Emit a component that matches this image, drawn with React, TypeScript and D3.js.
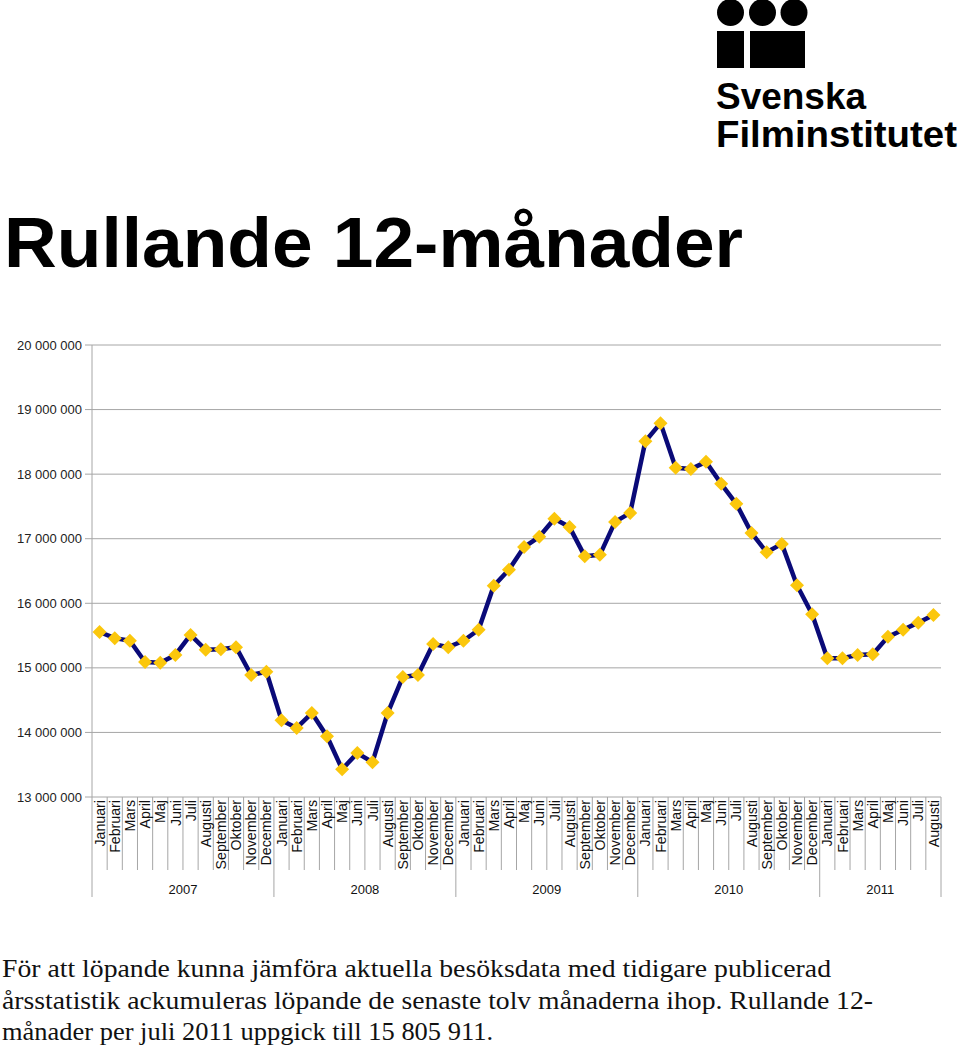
import React from "react";
import * as d3 from "d3";

const monthNames = ["Januari","Februari","Mars","April","Maj","Juni","Juli","Augusti","September","Oktober","November","December"];
const years = ["2007","2008","2009","2010","2011"];
const monthsPerYear = [12, 12, 12, 12, 8];
const values = [
  15.555, 15.46, 15.42, 15.09, 15.08, 15.2, 15.51, 15.28, 15.29, 15.32, 14.89, 14.94,
  14.19, 14.07, 14.3, 13.94, 13.43, 13.68, 13.54, 14.3, 14.86, 14.89, 15.37, 15.32,
  15.42, 15.59, 16.27, 16.52, 16.87, 17.03, 17.31, 17.18, 16.73, 16.75, 17.26, 17.4,
  18.51, 18.79, 18.1, 18.08, 18.19, 17.85, 17.54, 17.09, 16.79, 16.92, 16.28, 15.83,
  15.15, 15.15, 15.2, 15.21, 15.48, 15.59, 15.7, 15.82
].map(v => v * 1e6);
const yTicks = [13e6, 14e6, 15e6, 16e6, 17e6, 18e6, 19e6, 20e6];
const bodyLines = [
  "För att löpande kunna jämföra aktuella besöksdata med tidigare publicerad",
  "årsstatistik ackumuleras löpande de senaste tolv månaderna ihop. Rullande 12-",
  "månader per juli 2011 uppgick till 15 805 911."
];
const bodyWidths = [829, 871, 491];

const labels: string[] = [];
monthsPerYear.forEach(n => { for (let i = 0; i < n; i++) labels.push(monthNames[i]); });

export default function App() {
  const left = 92, right = 941, top = 345, bottom = 797;
  const x = d3.scaleBand<number>().domain(d3.range(values.length)).range([left, right]);
  const y = d3.scaleLinear().domain([13e6, 20e6]).range([bottom, top]);
  const fmt = (v: number) => d3.format(",")(v).replace(/,/g, " ");
  const line = d3.line<number>().x((_, i) => x(i)! + x.bandwidth() / 2).y(d => y(d));
  const yearStarts: number[] = [];
  let acc = 0;
  monthsPerYear.forEach(n => { yearStarts.push(acc); acc += n; });
  const sans = "'Liberation Sans', Arial, Helvetica, sans-serif";
  const r = 7;
  return (
    <svg width={960} height={1049} style={{ position: "absolute", left: 0, top: 0, background: "#fff" }}>
      {/* Logo */}
      <g fill="#000">
        <circle cx={730.5} cy={12.5} r={13.5} />
        <circle cx={762.5} cy={12.5} r={13.5} />
        <circle cx={794} cy={12.5} r={13.5} />
        <rect x={717} y={31} width={27} height={37} />
        <rect x={750} y={31} width={55} height={37} />
        <text x={716} y={109} fontFamily={sans} fontWeight="bold" fontSize={37} textLength={150} lengthAdjust="spacingAndGlyphs">Svenska</text>
        <text x={716} y={147} fontFamily={sans} fontWeight="bold" fontSize={37} textLength={241} lengthAdjust="spacingAndGlyphs">Filminstitutet</text>
      </g>
      {/* Title */}
      <text x={4} y={267} fontFamily={sans} fontWeight="bold" fontSize={71} textLength={739} lengthAdjust="spacingAndGlyphs" fill="#000">Rullande 12-månader</text>
      {/* Grid & y axis */}
      {yTicks.map(t => (
        <g key={t}>
          <line x1={85} x2={right} y1={y(t)} y2={y(t)} stroke="#a6a6a6" strokeWidth={1} />
          <text x={82} y={y(t)} dy="0.35em" textAnchor="end" fontFamily={sans} fontSize={13} fill="#222">{fmt(t)}</text>
        </g>
      ))}
      <line x1={left} x2={left} y1={top} y2={897} stroke="#a6a6a6" />
      {/* category ticks */}
      {d3.range(1, values.length + 1).map(i => {
        const xx = i === values.length ? right : x(i)!;
        const isYear = i === values.length || yearStarts.includes(i);
        return <line key={i} x1={xx} x2={xx} y1={bottom} y2={isYear ? 897 : 870} stroke="#a6a6a6" />;
      })}
      {labels.map((m, i) => {
        const cx = x(i)! + x.bandwidth() / 2;
        return (
          <text key={i} transform={`translate(${cx},800) rotate(-90)`} dy="0.36em" textAnchor="end" fontFamily={sans} fontSize={14.2} fill="#111">{m}</text>
        );
      })}
      {years.map((yr, k) => {
        const s = x(yearStarts[k])!;
        const e = k === years.length - 1 ? right : x(yearStarts[k + 1])!;
        return <text key={yr} x={(s + e) / 2} y={894} textAnchor="middle" fontFamily={sans} fontSize={13} fill="#111">{yr}</text>;
      })}
      {/* Series */}
      <path d={line(values)!} fill="none" stroke="#0a0a78" strokeWidth={4.5} strokeLinejoin="round" />
      {values.map((v, i) => {
        const cx = x(i)! + x.bandwidth() / 2, cy = y(v);
        return <path key={i} d={`M${cx},${cy - r}L${cx + r},${cy}L${cx},${cy + r}L${cx - r},${cy}Z`} fill="#fbc70c" />;
      })}
      {/* Body text */}
      {bodyLines.map((t, i) => (
        <text key={i} x={2} y={977 + i * 31.5} fontFamily="'Liberation Serif', 'Times New Roman', serif" fontSize={25} textLength={bodyWidths[i]} lengthAdjust="spacingAndGlyphs" fill="#111">{t}</text>
      ))}
    </svg>
  );
}
